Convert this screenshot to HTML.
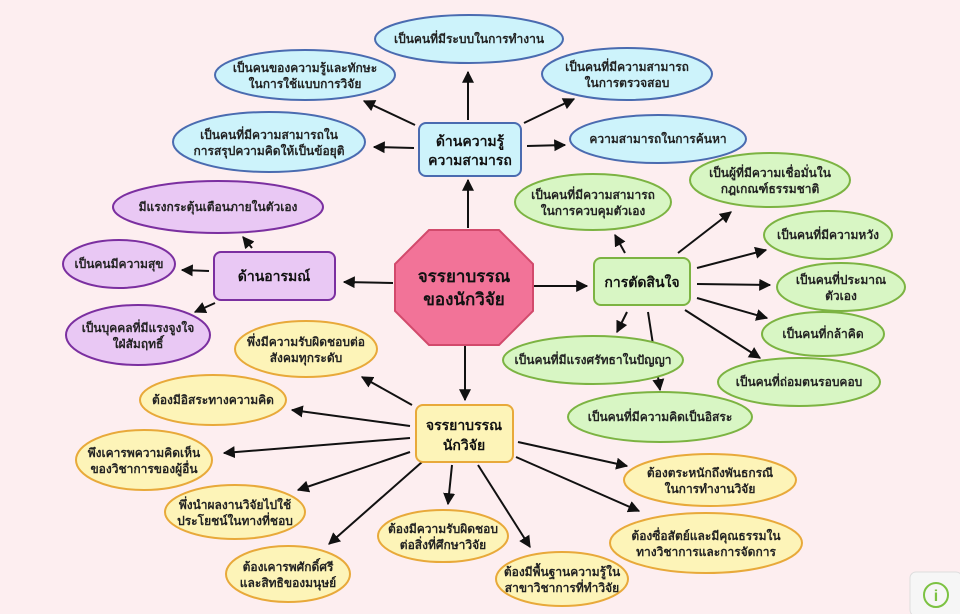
<!DOCTYPE html>
<html><head><meta charset="utf-8"><style>
html,body{margin:0;padding:0;background:#fdeef0;}
svg{display:block}
text{font-family:"Liberation Sans","DejaVu Sans",sans-serif;font-size:12px;fill:#222;text-anchor:middle;font-weight:600;}
.b{font-weight:bold;font-size:14px;fill:#111}
.bl{fill:#cdf3fb;stroke:#4a6bb0;stroke-width:2}
.pu{fill:#e9c8f4;stroke:#7b2fa0;stroke-width:2}
.gr{fill:#d8f6c4;stroke:#7cb342;stroke-width:2}
.ye{fill:#fdf4b8;stroke:#e8a93a;stroke-width:2}
line{stroke:#111;stroke-width:2;marker-end:url(#a)}
</style></head><body>
<svg width="960" height="614" viewBox="0 0 960 614">
<defs><marker id="a" viewBox="0 0 10 10" refX="9" refY="5" markerWidth="6" markerHeight="6" orient="auto"><path d="M0,0L10,5L0,10z" fill="#111"/></marker></defs>
<rect width="960" height="614" fill="#fdeef0"/>
<line x1="468" y1="228" x2="468" y2="180"/>
<line x1="468" y1="120" x2="468" y2="72"/>
<line x1="415" y1="125" x2="364" y2="101"/>
<line x1="414" y1="148" x2="374" y2="147"/>
<line x1="524" y1="123" x2="574" y2="99"/>
<line x1="527" y1="146" x2="565" y2="145"/>
<line x1="393" y1="283" x2="344" y2="282"/>
<line x1="209" y1="271" x2="182" y2="270"/>
<line x1="215" y1="303" x2="195" y2="312"/>
<line x1="252" y1="248" x2="243" y2="237"/>
<line x1="533" y1="286" x2="587" y2="286"/>
<line x1="625" y1="253" x2="615" y2="235"/>
<line x1="678" y1="253" x2="731" y2="212"/>
<line x1="697" y1="268" x2="766" y2="250"/>
<line x1="697" y1="284" x2="770" y2="285"/>
<line x1="697" y1="298" x2="767" y2="318"/>
<line x1="685" y1="310" x2="760" y2="358"/>
<line x1="627" y1="312" x2="617" y2="332"/>
<line x1="648" y1="312" x2="660" y2="390"/>
<line x1="465" y1="345" x2="465" y2="400"/>
<line x1="412" y1="405" x2="362" y2="377"/>
<line x1="410" y1="426" x2="292" y2="410"/>
<line x1="410" y1="438" x2="224" y2="453"/>
<line x1="410" y1="452" x2="298" y2="490"/>
<line x1="422" y1="462" x2="329" y2="544"/>
<line x1="452" y1="465" x2="448" y2="504"/>
<line x1="478" y1="465" x2="530" y2="547"/>
<line x1="518" y1="442" x2="627" y2="466"/>
<line x1="516" y1="457" x2="639" y2="511"/>
<ellipse class="bl" cx="469" cy="39" rx="94" ry="24"/><text x="469" y="43">เป็นคนที่มีระบบในการทำงาน</text>
<ellipse class="bl" cx="305" cy="75" rx="90" ry="25"/><text x="305" y="72">เป็นคนของความรู้และทักษะ</text><text x="305" y="88">ในการใช้แบบการวิจัย</text>
<ellipse class="bl" cx="627" cy="74" rx="85" ry="26"/><text x="627" y="71">เป็นคนที่มีความสามารถ</text><text x="627" y="87">ในการตรวจสอบ</text>
<ellipse class="bl" cx="269" cy="142" rx="96" ry="30"/><text x="269" y="139">เป็นคนที่มีความสามารถใน</text><text x="269" y="155">การสรุปความคิดให้เป็นข้อยุติ</text>
<ellipse class="bl" cx="658" cy="139" rx="88" ry="24"/><text x="658" y="143">ความสามารถในการค้นหา</text>
<rect class="bl" x="419" y="123" width="102" height="53" rx="7"/><text class="b" x="470" y="146">ด้านความรู้</text><text class="b" x="470" y="165">ความสามารถ</text>
<ellipse class="pu" cx="218" cy="207" rx="105" ry="26"/><text x="218" y="211">มีแรงกระตุ้นเตือนภายในตัวเอง</text>
<ellipse class="pu" cx="119" cy="264" rx="56" ry="24"/><text x="119" y="268">เป็นคนมีความสุข</text>
<ellipse class="pu" cx="138" cy="335" rx="72" ry="30"/><text x="138" y="332">เป็นบุคคลที่มีแรงจูงใจ</text><text x="138" y="348">ใฝ่สัมฤทธิ์</text>
<rect class="pu" x="214" y="252" width="121" height="48" rx="7"/><text class="b" x="274" y="281">ด้านอารมณ์</text>
<polygon points="429,230 499,230 533,264 533,311 499,345 429,345 395,311 395,264" fill="#f27398" stroke="#d24a6c" stroke-width="2"/>
<text class="b" x="464" y="282" style="font-size:17px">จรรยาบรรณ</text><text class="b" x="464" y="305" style="font-size:17px">ของนักวิจัย</text>
<ellipse class="gr" cx="770" cy="180" rx="80" ry="27"/><text x="770" y="177">เป็นผู้ที่มีความเชื่อมั่นใน</text><text x="770" y="193">กฎเกณฑ์ธรรมชาติ</text>
<ellipse class="gr" cx="593" cy="202" rx="78" ry="28"/><text x="593" y="199">เป็นคนที่มีความสามารถ</text><text x="593" y="215">ในการควบคุมตัวเอง</text>
<ellipse class="gr" cx="828" cy="235" rx="64" ry="24"/><text x="828" y="239">เป็นคนที่มีความหวัง</text>
<ellipse class="gr" cx="841" cy="287" rx="64" ry="24"/><text x="841" y="284">เป็นคนที่ประมาณ</text><text x="841" y="300">ตัวเอง</text>
<ellipse class="gr" cx="823" cy="334" rx="61" ry="22"/><text x="823" y="338">เป็นคนที่กล้าคิด</text>
<ellipse class="gr" cx="799" cy="382" rx="81" ry="24"/><text x="799" y="386">เป็นคนที่ถ่อมตนรอบคอบ</text>
<ellipse class="gr" cx="593" cy="360" rx="90" ry="24"/><text x="593" y="364">เป็นคนที่มีแรงศรัทธาในปัญญา</text>
<ellipse class="gr" cx="660" cy="417" rx="92" ry="25"/><text x="660" y="421">เป็นคนที่มีความคิดเป็นอิสระ</text>
<rect class="gr" x="594" y="258" width="96" height="47" rx="7"/><text class="b" x="642" y="287">การตัดสินใจ</text>
<ellipse class="ye" cx="306" cy="349" rx="71" ry="28"/><text x="306" y="346">พึ่งมีความรับผิดชอบต่อ</text><text x="306" y="362">สังคมทุกระดับ</text>
<ellipse class="ye" cx="213" cy="400" rx="73" ry="25"/><text x="213" y="404">ต้องมีอิสระทางความคิด</text>
<ellipse class="ye" cx="144" cy="460" rx="68" ry="30"/><text x="144" y="457">พึงเคารพความคิดเห็น</text><text x="144" y="473">ของวิชาการของผู้อื่น</text>
<ellipse class="ye" cx="235" cy="512" rx="70" ry="27"/><text x="235" y="509">พึ่งนำผลงานวิจัยไปใช้</text><text x="235" y="525">ประโยชน์ในทางที่ชอบ</text>
<ellipse class="ye" cx="288" cy="574" rx="62" ry="28"/><text x="288" y="571">ต้องเคารพศักดิ์ศรี</text><text x="288" y="587">และสิทธิของมนุษย์</text>
<ellipse class="ye" cx="443" cy="536" rx="65" ry="26"/><text x="443" y="533">ต้องมีความรับผิดชอบ</text><text x="443" y="549">ต่อสิ่งที่ศึกษาวิจัย</text>
<ellipse class="ye" cx="562" cy="579" rx="66" ry="27"/><text x="562" y="576">ต้องมีพื้นฐานความรู้ใน</text><text x="562" y="592">สาขาวิชาการที่ทำวิจัย</text>
<ellipse class="ye" cx="710" cy="480" rx="86" ry="26"/><text x="710" y="477">ต้องตระหนักถึงพันธกรณี</text><text x="710" y="493">ในการทำงานวิจัย</text>
<ellipse class="ye" cx="706" cy="543" rx="96" ry="30"/><text x="706" y="540">ต้องซื่อสัตย์และมีคุณธรรมใน</text><text x="706" y="556">ทางวิชาการและการจัดการ</text>
<rect class="ye" x="416" y="405" width="97" height="57" rx="7"/><text class="b" x="464" y="430">จรรยาบรรณ</text><text class="b" x="464" y="450">นักวิจัย</text>
<rect x="910" y="572" width="52" height="44" rx="6" fill="#f6f6f6" stroke="#ddd"/>
<circle cx="936" cy="595" r="12" fill="none" stroke="#7cc242" stroke-width="2"/>
<text x="936" y="601" style="fill:#7cc242;font-size:16px;font-weight:bold">i</text>
</svg>
</body></html>
